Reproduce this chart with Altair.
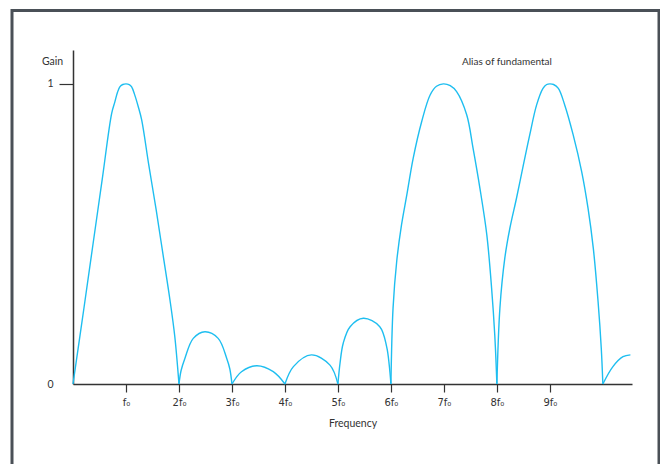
import altair as alt
import pandas as pd

# Frequency response (x in multiples of f0, y = gain)
lobes = [
    ([0.0, 0.2, 0.38, 0.55, 0.73, 0.79, 0.84, 0.887, 0.94, 1.0, 1.06, 1.107, 1.16, 1.232, 1.296, 1.43, 1.57, 1.70, 1.83, 1.92, 2.0],
     [0.0, 0.245, 0.469, 0.68, 0.902, 0.94, 0.972, 0.991, 0.998, 1.0, 0.998, 0.99, 0.966, 0.924, 0.88, 0.73, 0.58, 0.43, 0.28, 0.16, 0.0]),
    ([2.0, 2.04, 2.113, 2.27, 2.49, 2.74, 2.9, 2.96, 3.0],
     [0.0, 0.045, 0.086, 0.152, 0.174, 0.152, 0.086, 0.05, 0.0]),
    ([3.0, 3.18, 3.47, 3.78, 4.0],
     [0.0, 0.041, 0.061, 0.041, 0.0]),
    ([4.0, 4.16, 4.5, 4.85, 5.0],
     [0.0, 0.058, 0.097, 0.063, 0.0]),
    ([5.0, 5.04, 5.1, 5.23, 5.48, 5.79, 5.92, 5.97, 6.0],
     [0.0, 0.07, 0.136, 0.191, 0.219, 0.191, 0.124, 0.06, 0.0]),
    ([6.0, 6.04, 6.11, 6.20, 6.30, 6.42, 6.58, 6.74, 6.86, 6.99, 7.12, 7.24, 7.43, 7.55, 7.68, 7.81, 7.90, 7.96, 8.0],
     [0.0, 0.252, 0.41, 0.53, 0.63, 0.752, 0.874, 0.963, 0.992, 1.0, 0.994, 0.974, 0.897, 0.786, 0.652, 0.497, 0.32, 0.163, 0.0]),
    ([8.0, 8.057, 8.15, 8.245, 8.37, 8.50, 8.62, 8.75, 8.87, 8.94, 9.0, 9.07, 9.16, 9.28, 9.44, 9.60, 9.72, 9.82, 9.91, 9.97, 10.0],
     [0.0, 0.253, 0.42, 0.519, 0.619, 0.73, 0.83, 0.93, 0.985, 0.998, 1.0, 0.998, 0.985, 0.93, 0.83, 0.708, 0.586, 0.452, 0.274, 0.119, 0.0]),
    ([10.0, 10.19, 10.38, 10.52],
     [0.0, 0.058, 0.091, 0.097]),
]

lobe_id, freq, gain = [], [], []
for i, (xs, ys) in enumerate(lobes):
    lobe_id += [i] * len(xs)
    freq += xs
    gain += ys

df = pd.DataFrame({"lobe": lobe_id, "f": freq, "g": gain})

tick_values = [1, 2, 3, 4, 5, 6, 7, 8, 9]
annot = pd.DataFrame({"f": [8.19], "g": [1.073], "t": ["Alias of fundamental"]})

FONT = "Lato"
LABEL_FONT = "DejaVu Sans"
AX = "#333333"
XMAX = 10.55
YMAX = 1.113

x_enc = alt.X(
    "f:Q",
    scale=alt.Scale(domain=[0, XMAX], nice=False, zero=False),
    axis=alt.Axis(
        values=tick_values,
        labelExpr="datum.value == 1 ? 'f₀' : datum.value + 'f₀'",
        title="Frequency",
        grid=False,
        tickSize=8,
        tickColor=AX,
        tickWidth=1.2,
        domainColor=AX,
        domainWidth=1.5,
        labelFont=LABEL_FONT,
        labelFontSize=10,
        labelColor=AX,
        labelPadding=5,
        titleFont=FONT,
        titleFontSize=10.5,
        titleFontWeight="normal",
        titleColor=AX,
        titlePadding=11,
    ),
)
y_enc = alt.Y(
    "g:Q",
    scale=alt.Scale(domain=[0, YMAX], nice=False),
    axis=alt.Axis(
        values=[0, 1],
        format="d",
        title="Gain",
        titleAngle=0,
        titleX=-21,
        titleY=11,
        titleAlign="center",
        titleBaseline="middle",
        titleFont=FONT,
        titleFontSize=10.5,
        titleFontWeight="normal",
        titleColor=AX,
        grid=False,
        tickSize=14,
        tickColor=AX,
        tickWidth=1.2,
        tickOpacity=alt.condition("datum.value == 0", alt.value(0), alt.value(1)),
        domainColor=AX,
        domainWidth=1.5,
        labelFont=FONT,
        labelFontSize=10.5,
        labelColor=AX,
        labelPadding=6,
    ),
)

line = alt.Chart(df).mark_line(color="#1ebef0", strokeWidth=1.4, interpolate="catmull-rom").encode(
    x=x_enc, y=y_enc, detail="lobe:N"
)

text = alt.Chart(annot).mark_text(font=FONT, fontSize=10, color=AX, align="center", baseline="middle").encode(
    x="f:Q", y="g:Q", text="t:N"
)

frame = alt.Chart(pd.DataFrame({"a": [0]})).mark_rect(
    fill=None, stroke="#4a5057", strokeWidth=3, clip=False
).encode(
    x=alt.value(-61), x2=alt.value(586), y=alt.value(-39.5), y2=alt.value(440)
)

chart = alt.layer(frame, line, text).properties(
    width=559, height=334,
    background="white",
    padding={"left": 65, "top": 42, "right": 28, "bottom": 80},
    autosize=alt.AutoSizeParams(type="none"),
).configure_view(strokeWidth=0, stroke="transparent")

chart.save("out.html", embed_options={"renderer": "svg", "actions": False})
